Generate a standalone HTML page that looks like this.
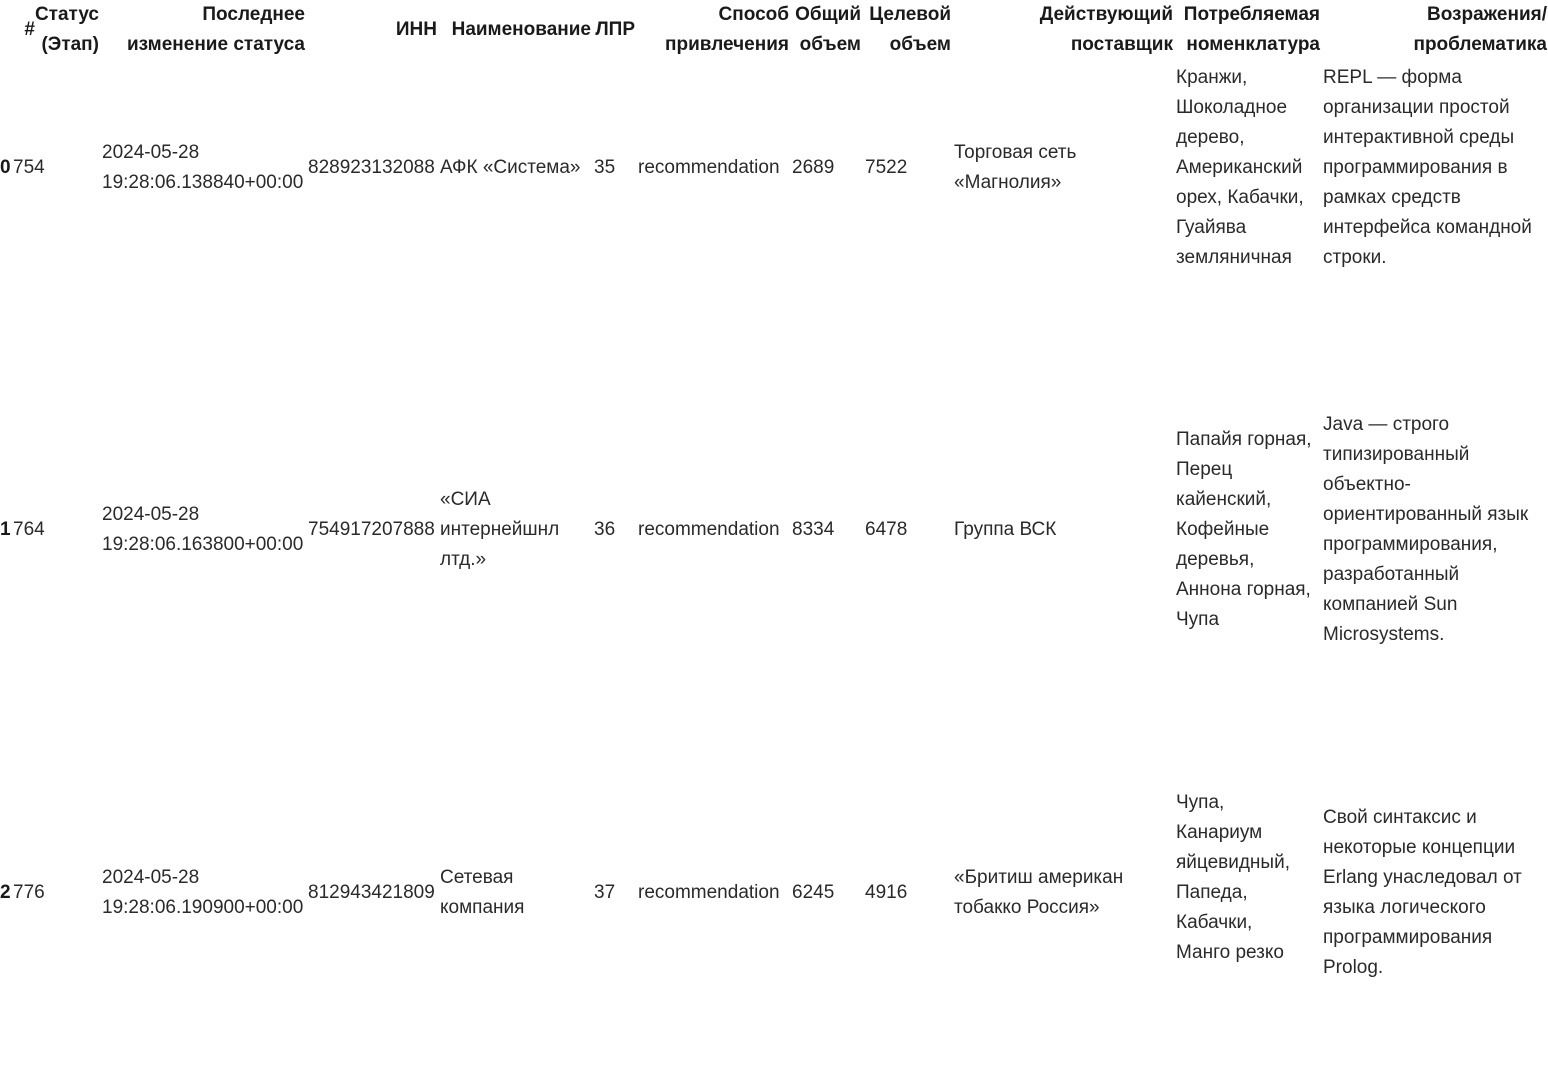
<!DOCTYPE html>
<html><head><meta charset="utf-8">
<style>
body{margin:0;width:1548px;height:960px;overflow:hidden;background:#fff;font-family:"Liberation Sans","Noto Sans CJK SC",sans-serif;font-size:19px;line-height:30px;color:#2a2a2a}
.row{position:absolute;left:0;width:1548px;height:362px}
.c{position:absolute;top:0;height:100%;display:flex;align-items:center;white-space:nowrap;padding-left:2px;box-sizing:border-box}
.hd{position:absolute;top:0;left:0;width:1548px;height:60px;background:#fff;z-index:2;font-weight:bold;color:#1a1a1a}
.hd .c{justify-content:flex-end;text-align:right;padding-left:0;padding-right:1px}
.b{font-weight:bold;color:#1a1a1a}
</style></head><body>
<div class="hd">
 <div class="c" style="left:0;width:36px">#</div>
 <div class="c" style="left:12px;width:88px">Статус<br>(Этап)</div>
 <div class="c" style="left:100px;width:206px">Последнее<br>изменение статуса</div>
 <div class="c" style="left:306px;width:132px">ИНН</div>
 <div class="c" style="left:438px;width:154px">Наименование</div>
 <div class="c" style="left:592px;width:44px">ЛПР</div>
 <div class="c" style="left:636px;width:154px">Способ<br>привлечения</div>
 <div class="c" style="left:790px;width:72px">Общий<br>объем</div>
 <div class="c" style="left:862px;width:90px">Целевой<br>объем</div>
 <div class="c" style="left:952px;width:222px">Действующий<br>поставщик</div>
 <div class="c" style="left:1174px;width:147px">Потребляемая<br>номенклатура</div>
 <div class="c" style="left:1321px;width:227px">Возражения/<br>проблематика</div>
</div>

<div class="row" style="top:-13px">
 <div class="c b" style="left:-2px;width:14px">0</div>
 <div class="c" style="left:11px;width:88px">754</div>
 <div class="c" style="left:100px;width:206px">2024-05-28<br>19:28:06.138840+00:00</div>
 <div class="c" style="left:306px;width:132px">828923132088</div>
 <div class="c" style="left:438px;width:154px">АФК «Система»</div>
 <div class="c" style="left:592px;width:44px">35</div>
 <div class="c" style="left:636px;width:154px">recommendation</div>
 <div class="c" style="left:790px;width:72px">2689</div>
 <div class="c" style="left:863px;width:90px">7522</div>
 <div class="c" style="left:952px;width:222px">Торговая сеть<br>«Магнолия»</div>
 <div class="c" style="left:1174px;width:147px">Кранжи,<br>Шоколадное<br>дерево,<br>Американский<br>орех, Кабачки,<br>Гуайява<br>земляничная</div>
 <div class="c" style="left:1321px;width:227px">REPL — форма<br>организации простой<br>интерактивной среды<br>программирования в<br>рамках средств<br>интерфейса командной<br>строки.</div>
</div>

<div class="row" style="top:349px">
 <div class="c b" style="left:-2px;width:14px">1</div>
 <div class="c" style="left:11px;width:88px">764</div>
 <div class="c" style="left:100px;width:206px">2024-05-28<br>19:28:06.163800+00:00</div>
 <div class="c" style="left:306px;width:132px">754917207888</div>
 <div class="c" style="left:438px;width:154px">«СИА<br>интернейшнл<br>лтд.»</div>
 <div class="c" style="left:592px;width:44px">36</div>
 <div class="c" style="left:636px;width:154px">recommendation</div>
 <div class="c" style="left:790px;width:72px">8334</div>
 <div class="c" style="left:863px;width:90px">6478</div>
 <div class="c" style="left:952px;width:222px">Группа ВСК</div>
 <div class="c" style="left:1174px;width:147px">Папайя горная,<br>Перец<br>кайенский,<br>Кофейные<br>деревья,<br>Аннона горная,<br>Чупа</div>
 <div class="c" style="left:1321px;width:227px">Java — строго<br>типизированный<br>объектно-<br>ориентированный язык<br>программирования,<br>разработанный<br>компанией Sun<br>Microsystems.</div>
</div>

<div class="row" style="top:712px">
 <div class="c b" style="left:-2px;width:14px">2</div>
 <div class="c" style="left:11px;width:88px">776</div>
 <div class="c" style="left:100px;width:206px">2024-05-28<br>19:28:06.190900+00:00</div>
 <div class="c" style="left:306px;width:132px">812943421809</div>
 <div class="c" style="left:438px;width:154px">Сетевая<br>компания</div>
 <div class="c" style="left:592px;width:44px">37</div>
 <div class="c" style="left:636px;width:154px">recommendation</div>
 <div class="c" style="left:790px;width:72px">6245</div>
 <div class="c" style="left:863px;width:90px">4916</div>
 <div class="c" style="left:952px;width:222px">«Бритиш американ<br>тобакко Россия»</div>
 <div class="c" style="left:1174px;width:147px">Чупа,<br>Канариум<br>яйцевидный,<br>Папеда,<br>Кабачки,<br>Манго резко<br>&nbsp;</div>
 <div class="c" style="left:1321px;width:227px">Свой синтаксис и<br>некоторые концепции<br>Erlang унаследовал от<br>языка логического<br>программирования<br>Prolog.</div>
</div>
</body></html>
